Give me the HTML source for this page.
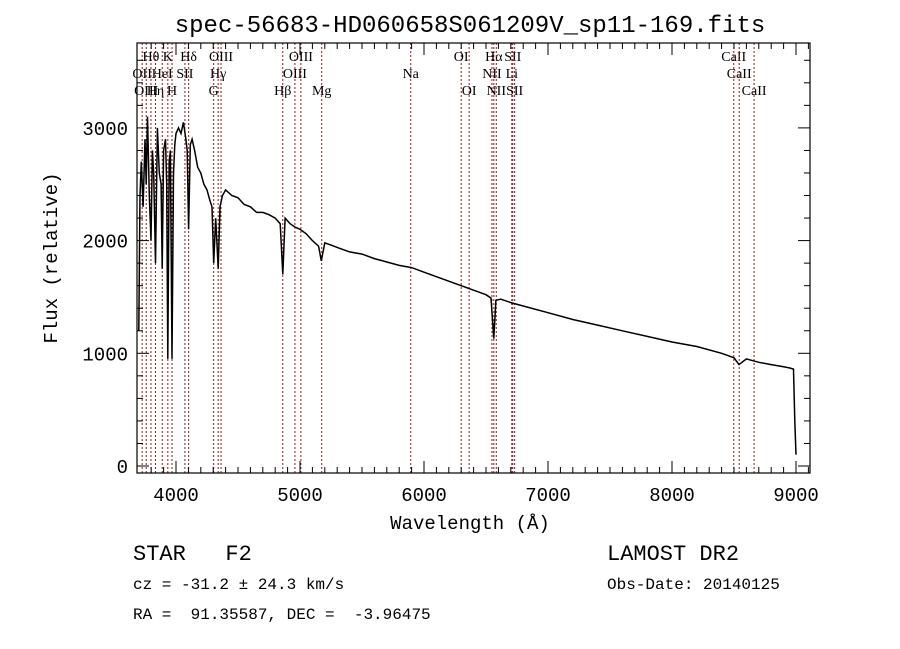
<!DOCTYPE html>
<html><head><meta charset="utf-8"><style>
body{margin:0;background:#fff}
svg{display:block;font-family:"Liberation Serif",serif}
.m{font-family:"Liberation Mono",monospace}
text{white-space:pre}
</style></head><body>
<svg id="c" width="900" height="649" viewBox="0 0 900 649">
<text x="470" y="32" text-anchor="middle" font-size="24" class="m">spec-56683-HD060658S061209V_sp11-169.fits</text>
<g id="lines"></g>
<g id="axes"></g>
<path id="spec" fill="none" stroke="#000" stroke-width="1.5"/>
<text x="470" y="529" text-anchor="middle" font-size="19" class="m">Wavelength (Å)</text>
<text transform="translate(57,258) rotate(-90)" text-anchor="middle" font-size="19" class="m">Flux (relative)</text>
<text x="133" y="560" font-size="22" class="m" xml:space="preserve">STAR   F2</text>
<text x="133" y="589" font-size="16" class="m">cz = -31.2 ± 24.3 km/s</text>
<text x="133" y="619" font-size="16" class="m" xml:space="preserve">RA =  91.35587, DEC =  -3.96475</text>
<text x="607" y="560" font-size="22" class="m">LAMOST DR2</text>
<text x="607" y="589" font-size="16" class="m">Obs-Date: 20140125</text>
</svg>
<script>
const waves=[3700,3710,3720,3735,3750,3760,3770,3785,3798,3810,3820,3835,3850,3865,3880,3889,3900,3915,3925,3934,3945,3955,3968,3980,3990,4000,4020,4040,4060,4080,4090,4102,4115,4130,4150,4175,4200,4225,4250,4275,4290,4304,4320,4340,4355,4375,4400,4450,4500,4550,4600,4650,4700,4750,4800,4840,4861,4880,4920,4960,5000,5050,5100,5150,5172,5200,5250,5300,5400,5500,5600,5700,5800,5900,6000,6100,6200,6300,6400,6500,6540,6563,6580,6620,6700,6800,7000,7200,7400,7600,7800,8000,8200,8400,8500,8540,8600,8700,8800,8900,8950,8980,8990,9000];
const flux=[1200,2400,2700,2300,2900,2500,3100,2400,2000,2800,2600,1800,3000,2600,2500,1750,2800,2900,2500,950,2700,2800,950,2600,2850,2950,3000,2950,3050,2900,2800,2100,2850,2900,2800,2650,2600,2500,2450,2350,2300,1800,2200,1750,2300,2400,2450,2400,2380,2320,2300,2250,2250,2230,2200,2150,1700,2200,2150,2120,2100,2060,2000,1950,1820,1980,1960,1940,1900,1880,1840,1810,1780,1760,1720,1680,1640,1600,1560,1520,1490,1130,1470,1480,1450,1420,1360,1300,1250,1200,1150,1100,1060,1000,960,900,950,920,900,880,870,860,400,100];
const lineNames=["Hθ","OII","OIII","Hη","HeI","K","H","Hδ","SII","G","Hγ","OIII","Hβ","OIII","OIII","Mg","Na","OI","OI","NII","Hα","NII","Li","SII","SII","CaII","CaII","CaII"];
const lineWaves=[3798,3727,3760,3835,3889,3934,3968,4102,4072,4304,4340,4363,4861,4959,5007,5175,5893,6300,6364,6548,6563,6583,6708,6716,6731,8498,8542,8662];
const lineRows=[0,1,2,2,1,0,2,0,1,2,1,0,2,1,0,2,1,0,2,1,0,2,1,0,2,0,1,2];
const xTicks=[4000,5000,6000,7000,8000,9000];
const yTicks=[0,1000,2000,3000];
const L=137,R=810,T=43,B=473;
const X=w=>176+(w-4000)*0.124;
const Y=f=>466-f*0.1127;
const ns="http://www.w3.org/2000/svg";
function mk(t,a,p){const e=document.createElementNS(ns,t);for(const k in a)e.setAttribute(k,a[k]);p.appendChild(e);return e;}
const gl=document.getElementById('lines'),ga=document.getElementById('axes');
lineWaves.forEach((w,i)=>{
 const x=X(w);
 const l=mk('line',{x1:x,x2:x,y1:T,y2:B,stroke:'#8b1a1a','stroke-width':1,'stroke-dasharray':'2,2'},gl);
 
 
 const t=mk('text',{x:x,y:61+lineRows[i]*17,'text-anchor':'middle','font-size':14},gl);
 t.textContent=lineNames[i];
 
 
});
const fr=mk('rect',{x:L,y:T,width:R-L,height:B-T,fill:'none',stroke:'#000','stroke-width':1.2},ga);


for(let w=3800;w<=9100;w+=100){const x=X(w);if(x<L||x>R)continue;const big=w%1000===0;
 mk('line',{x1:x,x2:x,y1:B,y2:B-(big?12:6),stroke:'#000'},ga);mk('line',{x1:x,x2:x,y1:T,y2:T+(big?12:6),stroke:'#000'},ga);}
xTicks.forEach(v=>{const t=mk('text',{x:X(v),y:501,'text-anchor':'middle','font-size':19,class:'m'},ga);t.textContent=v;
 });
for(let f=0;f<=3600;f+=200){const y=Y(f);if(y<T)continue;const big=f%1000===0;
 mk('line',{x1:L,x2:L+(big?12:6),y1:y,y2:y,stroke:'#000'},ga);mk('line',{x1:R,x2:R-(big?12:6),y1:y,y2:y,stroke:'#000'},ga);}
yTicks.forEach(v=>{const t=mk('text',{x:128,y:Y(v)+7,'text-anchor':'end','font-size':19,class:'m'},ga);t.textContent=v;
 });
document.getElementById('spec').setAttribute('d',waves.map((w,i)=>(i?'L':'M')+X(w).toFixed(1)+' '+Y(flux[i]).toFixed(1)).join(' '));
</script>
</body></html>
